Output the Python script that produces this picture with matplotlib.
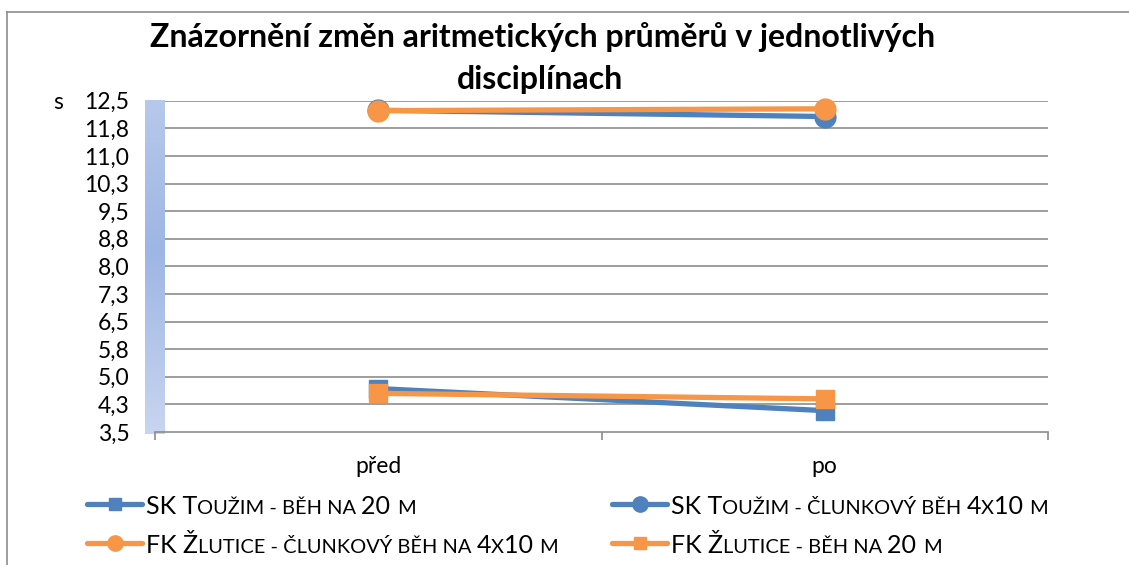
import numpy as np
import matplotlib
matplotlib.use("Agg")
from matplotlib import pyplot as plt
from matplotlib.lines import Line2D

plt.rcParams['font.family'] = ['Lato', 'DejaVu Sans']

W, H = 1129, 565

categories = ["před", "po"]
sk_beh20 = [4.68, 4.08]
sk_clunk = [12.24, 12.07]
fk_clunk = [12.23, 12.28]
fk_beh20 = [4.55, 4.40]

y_ticks = [3.5, 4.25, 5.0, 5.75, 6.5, 7.25, 8.0, 8.75, 9.5, 10.25, 11.0, 11.75, 12.5]
y_tick_labels = ["3,5", "4,3", "5,0", "5,8", "6,5", "7,3", "8,0", "8,8",
                 "9,5", "10,3", "11,0", "11,8", "12,5"]

series = [
    ("SK Toužim - běh na 20 m", sk_beh20, "#4f81bd", "s"),
    ("SK Toužim - člunkový běh 4x10 m", sk_clunk, "#4f81bd", "o"),
    ("FK Žlutice - člunkový běh na 4x10 m", fk_clunk, "#f79646", "o"),
    ("FK Žlutice - běh na 20 m", fk_beh20, "#f79646", "s"),
]

title_lines = ["Znázornění změn aritmetických průměrů v jednotlivých", "disciplínach"]

GRID = "#8c8c8c"


def fx(px):
    return px / W


def fy(py):
    return 1 - py / H


fig = plt.figure(figsize=(W / 100, H / 100), dpi=100)
fig.patch.set_facecolor("white")

# outer chart frame (left and top edges only)
fig.add_artist(Line2D([fx(7), fx(7)], [fy(12), 0], transform=fig.transFigure, color=GRID, lw=1.2))
fig.add_artist(Line2D([fx(7), 1], [fy(12), fy(12)], transform=fig.transFigure, color=GRID, lw=1.2))

# side wall with vertical gradient
wall = fig.add_axes([fx(145), fy(434), fx(20), (434 - 100) / H])
stops = np.array([[0.0, 183, 201, 235], [0.45, 158, 182, 228], [1.0, 200, 213, 240]])
t = np.linspace(0, 1, 200)
grad = np.stack([np.interp(t, stops[:, 0], stops[:, i]) for i in (1, 2, 3)], axis=1) / 255
wall.imshow(grad[:, None, :], aspect="auto", extent=(0, 1, 0, 1))
wall.axis("off")

ax = fig.add_axes([fx(155), fy(432), fx(1048 - 155), (432 - 100.7) / H])
ax.set_xlim(-0.5, 1.5)
ax.set_ylim(3.5, 12.5)
ax.patch.set_alpha(0)
for s in ["top", "right", "left"]:
    ax.spines[s].set_visible(False)
ax.spines["bottom"].set_color(GRID)
ax.spines["bottom"].set_linewidth(1.2)

# horizontal gridlines start a little right of the wall
ax.hlines(y_ticks[1:], 10 / (1048 - 155), 1, transform=ax.get_yaxis_transform(),
          color=GRID, lw=1.2, zorder=1)

ax.set_yticks(y_ticks)
ax.set_yticklabels(y_tick_labels)
ax.tick_params(axis="y", length=0, pad=18.5, labelsize=16.5)

x = np.arange(len(categories))
ax.set_xticks(x)
ax.set_xticklabels(categories)
ax.set_xticks([-0.5, 0.5, 1.5], minor=True)
ax.tick_params(axis="x", which="major", length=0, pad=17, labelsize=16.5)
ax.tick_params(axis="x", which="minor", length=6, width=1.2, color=GRID, direction="out")

ax.annotate("s", xy=(0, 12.5), xycoords=ax.get_yaxis_transform(), xytext=(-97, 0),
            textcoords="offset pixels", ha="center", va="center_baseline", fontsize=16.5)

for label, vals, color, marker in series:
    ms = 15 if marker == "o" else 13.5
    ax.plot(x, vals, color=color, lw=3.8, marker=marker, ms=ms,
            solid_capstyle="round", zorder=3, clip_on=False)

# title
fig.text(fx(543), fy(47), title_lines[0], ha="center", va="baseline",
         fontsize=23, fontweight="bold")
fig.text(fx(540), fy(89), title_lines[1], ha="center", va="baseline",
         fontsize=23, fontweight="bold")

# legend with small-caps labels
renderer = fig.canvas.get_renderer()
BIG, SMALL = 18, 14.4


def chunks(text):
    out = []
    for ch in text:
        if ch.islower():
            small = True
        elif ch in " -":
            small = out[-1][1] if out else False
        else:
            small = False
        if out and out[-1][1] == small:
            out[-1][0] += ch
        else:
            out.append([ch, small])
    return out


def advance(s, size):
    a = fig.text(0, 0, s + "|", fontsize=size)
    b = fig.text(0, 0, "|", fontsize=size)
    w = a.get_window_extent(renderer).width - b.get_window_extent(renderer).width
    a.remove()
    b.remove()
    return w


def legend_entry(x0, base, label, color, marker):
    ly = base - 10
    fig.add_artist(Line2D([fx(x0), fx(x0 + 55)], [fy(ly), fy(ly)], transform=fig.transFigure,
                          color=color, lw=3.8, solid_capstyle="round"))
    fig.add_artist(Line2D([fx(x0 + 27.5)], [fy(ly)], transform=fig.transFigure, color=color,
                          marker=marker, ms=11 if marker == "o" else 9, ls="none"))
    cur = x0 + 59
    for txt, small in chunks(label):
        size = SMALL if small else BIG
        s = txt.upper()
        fig.text(fx(cur), fy(base), s, fontsize=size, ha="left", va="baseline")
        cur += advance(s, size)


positions = [(87, 514), (612, 514), (87, 553), (612, 553)]
for (px, py), (label, vals, color, marker) in zip(positions, series):
    legend_entry(px, py, label, color, marker)

fig.savefig("out.png", dpi=100)
